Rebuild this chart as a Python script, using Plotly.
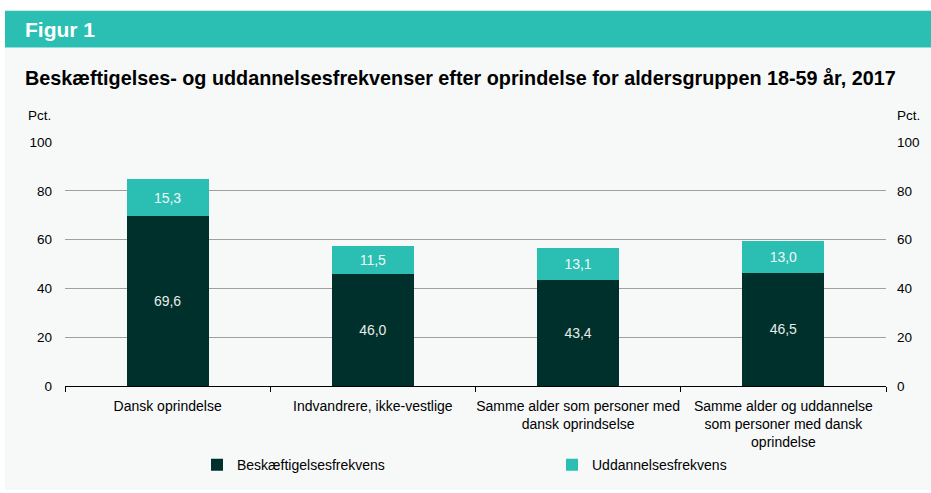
import plotly.graph_objects as go

categories = [
    "Dansk oprindelse",
    "Indvandrere, ikke-vestlige",
    "Samme alder som personer med<br>dansk oprindselse",
    "Samme alder og uddannelse<br>som personer med dansk<br>oprindelse",
]
beskaeftigelse = [69.6, 46.0, 43.4, 46.5]
uddannelse = [15.3, 11.5, 13.1, 13.0]
y_ticks = [0, 20, 40, 60, 80, 100]

DARK = "#00302b"
TEAL = "#2bbfb3"
BG = "#f7f9f9"
FONT = "Liberation Sans, Arial, sans-serif"

W, H = 931, 493
L, R, T, B = 65, 886, 141.5, 388


def px(x):
    return (x - L) / (R - L)


def py(y):
    return (B - y) / (B - T)


def fmt(v):
    return f"{v:.1f}".replace(".", ",")


fig = go.Figure()
fig.add_trace(go.Bar(
    x=categories, y=beskaeftigelse, name="Beskæftigelsesfrekvens",
    marker=dict(color=DARK, line=dict(width=0)),
    text=[fmt(v) for v in beskaeftigelse], textposition="inside",
    insidetextanchor="middle",
    textfont=dict(color="#e6ecea", size=14, family=FONT),
))
fig.add_trace(go.Bar(
    x=categories, y=uddannelse, name="Uddannelsesfrekvens",
    marker=dict(color=TEAL, line=dict(width=0)),
    text=[fmt(v) for v in uddannelse], textposition="inside",
    insidetextanchor="middle",
    textfont=dict(color="#f2f7f6", size=14, family=FONT),
))
# invisible trace to activate the right axis
fig.add_trace(go.Scatter(x=categories, y=beskaeftigelse, yaxis="y2",
                         mode="markers", marker=dict(opacity=0),
                         showlegend=False, hoverinfo="skip"))

shapes = [
    dict(type="rect", xref="paper", yref="paper", x0=px(5), x1=px(931),
         y0=py(46), y1=py(493), fillcolor=BG, line=dict(width=0), layer="below"),
    dict(type="rect", xref="paper", yref="paper", x0=px(5), x1=px(931),
         y0=py(9), y1=py(46), fillcolor=TEAL, line=dict(width=0), layer="below"),
]

annotations = [
    dict(text="<b>Figur 1</b>", xref="paper", yref="paper", x=px(23), y=py(27.5),
         xanchor="left", yanchor="middle", showarrow=False,
         font=dict(color="white", size=21, family=FONT)),
    dict(text="<b>Beskæftigelses- og uddannelsesfrekvenser efter oprindelse for aldersgruppen 18-59 år, 2017</b>",
         xref="paper", yref="paper", x=px(23), y=py(77),
         xanchor="left", yanchor="middle", showarrow=False,
         font=dict(color="black", size=19.8, family=FONT)),
    dict(text="Pct.", xref="paper", yref="paper", x=px(26), y=py(115),
         xanchor="left", yanchor="middle", showarrow=False,
         font=dict(color="black", size=13.5, family=FONT)),
    dict(text="Pct.", xref="paper", yref="paper", x=px(922), y=py(115),
         xanchor="right", yanchor="middle", showarrow=False,
         font=dict(color="black", size=13.5, family=FONT)),
]

fig.update_layout(
    width=W, height=H,
    margin=dict(l=L, r=W - R, t=T, b=H - B, pad=0),
    barmode="stack", bargap=0.6,
    paper_bgcolor="white", plot_bgcolor=BG,
    font=dict(family=FONT, size=14, color="black"),
    shapes=shapes, annotations=annotations,
    xaxis=dict(
        showgrid=False, showline=True, linecolor="black", linewidth=1,
        ticks="outside", tickson="boundaries", ticklen=5, tickcolor="black",
        tickfont=dict(size=14, color="black"), zeroline=False,
        tickangle=0, automargin=False, ticklabelstandoff=7,
    ),
    yaxis=dict(
        range=[0, 100], tickvals=y_ticks, showgrid=True, gridcolor="#a0a0a0",
        gridwidth=1, zeroline=False, showline=False, ticks="",
        ticklabelstandoff=12, tickfont=dict(size=13.5, color="black"),
        automargin=False,
    ),
    yaxis2=dict(
        range=[0, 100], tickvals=y_ticks, overlaying="y", side="right",
        showgrid=False, zeroline=False, showline=False, ticks="",
        ticklabelstandoff=10, tickfont=dict(size=13.5, color="black"),
        automargin=False,
    ),
    legend=dict(
        orientation="h", x=px(197), y=py(468), xanchor="left", yanchor="middle",
        entrywidth=310, entrywidthmode="pixels", itemwidth=30,
        font=dict(size=14, color="black"), bgcolor="rgba(0,0,0,0)",
        traceorder="normal", borderwidth=0,
    ),
    showlegend=True,
)

fig.write_html("out.html", config={"displayModeBar": False},
               post_script="document.body.style.margin='0px';")
